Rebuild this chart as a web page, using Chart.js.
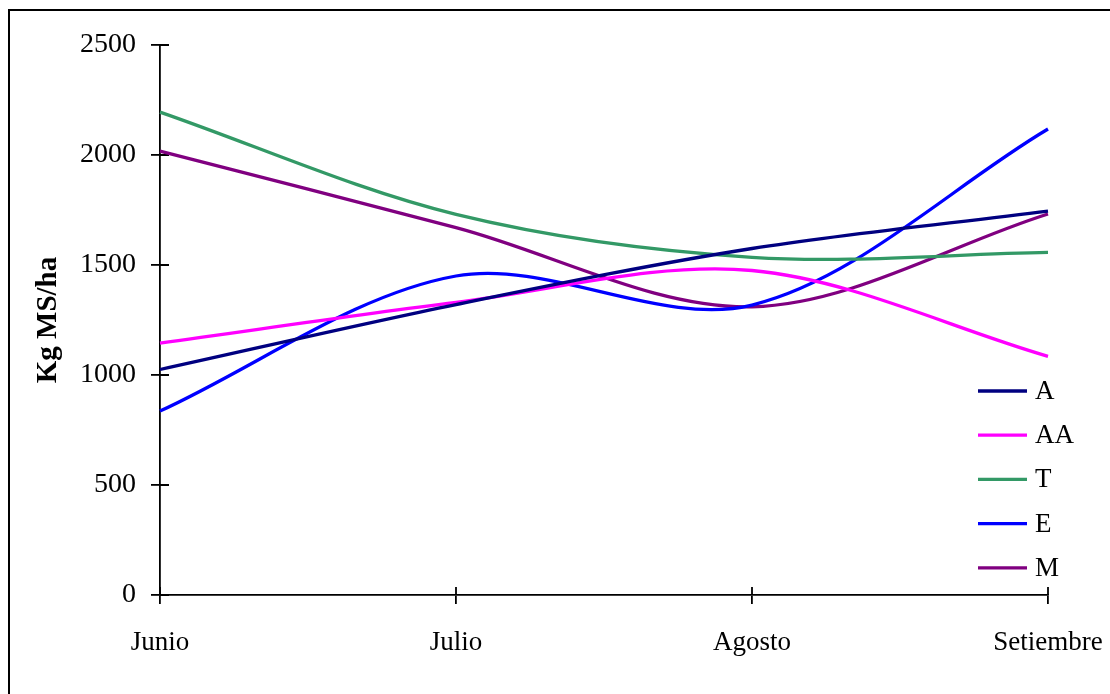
<!DOCTYPE html>
<html><head><meta charset="utf-8">
<script src="https://cdn.jsdelivr.net/npm/chart.js@4"></script>
<style>
html,body{margin:0;padding:0;background:#fff;overflow:hidden;}
#wrap{position:relative;width:1110px;height:694px;}
#frame{position:absolute;left:8px;top:9px;width:1300px;height:900px;border:2px solid #000;box-sizing:border-box;pointer-events:none;}
canvas{position:absolute;left:0;top:0;}
</style></head><body>
<div id="wrap"><canvas id="c" width="1110" height="694"></canvas><div id="frame"></div></div>
<script>
const months = ['Junio', 'Julio', 'Agosto', 'Setiembre'];
const seriesNames = ['A', 'AA', 'T', 'E', 'M'];
const valuesA  = [1025, 1320, 1575, 1745];
const valuesAA = [1145, 1330, 1475, 1085];
const valuesT  = [2195, 1730, 1535, 1557];
const valuesE  = [836, 1450, 1318, 2118];
const valuesM  = [2018, 1670, 1310, 1732];
const seriesColors = ['#000080', '#FF00FF', '#339966', '#0000FF', '#800080'];
const yMin = 0, yMax = 2500, yStep = 500;
const yTitle = 'Kg MS/ha';

const FONT = '"Liberation Serif", "Times New Roman", serif';
const allValues = [valuesA, valuesAA, valuesT, valuesE, valuesM];

const datasets = seriesNames.map((name, i) => ({
  label: name,
  data: allValues[i],
  borderColor: seriesColors[i],
  backgroundColor: seriesColors[i],
  borderWidth: 3.3,
  pointRadius: 0,
  pointHoverRadius: 0,
  tension: 0.33,
  fill: false
}));

const innerTicks = {
  id: 'innerTicks',
  beforeDatasetsDraw(chart) {
    const ctx = chart.ctx, ca = chart.chartArea;
    const xs = chart.scales.x, ys = chart.scales.y;
    ctx.save();
    ctx.strokeStyle = '#000';
    ctx.lineWidth = 1.8;
    ctx.beginPath();
    ys.ticks.forEach(t => {
      const y = ys.getPixelForValue(t.value);
      ctx.moveTo(ca.left, y); ctx.lineTo(ca.left + 9, y);
    });
    xs.ticks.forEach((t, i) => {
      const x = xs.getPixelForValue(i);
      ctx.moveTo(x, ca.bottom); ctx.lineTo(x, ca.bottom - 8);
    });
    ctx.stroke();
    ctx.restore();
  }
};

const insideLegend = {
  id: 'insideLegend',
  afterDraw(chart) {
    const ctx = chart.ctx, ca = chart.chartArea;
    const x0 = ca.right - 70, x1 = ca.right - 21, tx = ca.right - 13;
    const y0 = ca.top + 346, dy = 44.2;
    ctx.save();
    ctx.font = '27px ' + FONT;
    ctx.textBaseline = 'middle';
    ctx.textAlign = 'left';
    chart.data.datasets.forEach((ds, i) => {
      const y = y0 + i * dy;
      ctx.strokeStyle = ds.borderColor;
      ctx.lineWidth = 3.3;
      ctx.beginPath();
      ctx.moveTo(x0, y); ctx.lineTo(x1, y);
      ctx.stroke();
      ctx.fillStyle = '#000';
      ctx.fillText(ds.label, tx, y + 1);
    });
    ctx.restore();
  }
};

new Chart(document.getElementById('c'), {
  type: 'line',
  data: { labels: months, datasets },
  options: {
    responsive: false,
    animation: false,
    devicePixelRatio: 1,
    layout: { padding: { left: 0, right: 62, top: 45, bottom: 0 } },
    plugins: { legend: { display: false }, tooltip: { enabled: false } },
    scales: {
      x: {
        type: 'category',
        offset: false,
        grid: { display: true, drawOnChartArea: false, drawTicks: true, tickLength: 9, color: '#000', lineWidth: 1.8, offset: false },
        border: { display: true, color: '#000', width: 1.8 },
        ticks: { color: '#000', font: { family: FONT, size: 27 }, padding: 23, maxRotation: 0, autoSkip: false },
        afterFit(s) { s.height = 99; s.paddingLeft = 0; s.paddingRight = 0; }
      },
      y: {
        min: yMin, max: yMax,
        grid: { display: true, drawOnChartArea: false, drawTicks: true, tickLength: 9, color: '#000', lineWidth: 1.8 },
        border: { display: true, color: '#000', width: 1.8 },
        ticks: { stepSize: yStep, color: '#000', font: { family: FONT, size: 28 }, padding: 15, callback: v => String(v) },
        title: { display: true, text: yTitle, color: '#000', font: { family: FONT, size: 29, weight: 'bold' }, padding: { top: 31, bottom: 0 } },
        afterFit(s) { s.width = 160; s.paddingTop = 0; s.paddingBottom = 0; }
      }
    }
  },
  plugins: [innerTicks, insideLegend]
});
</script>
</body></html>
